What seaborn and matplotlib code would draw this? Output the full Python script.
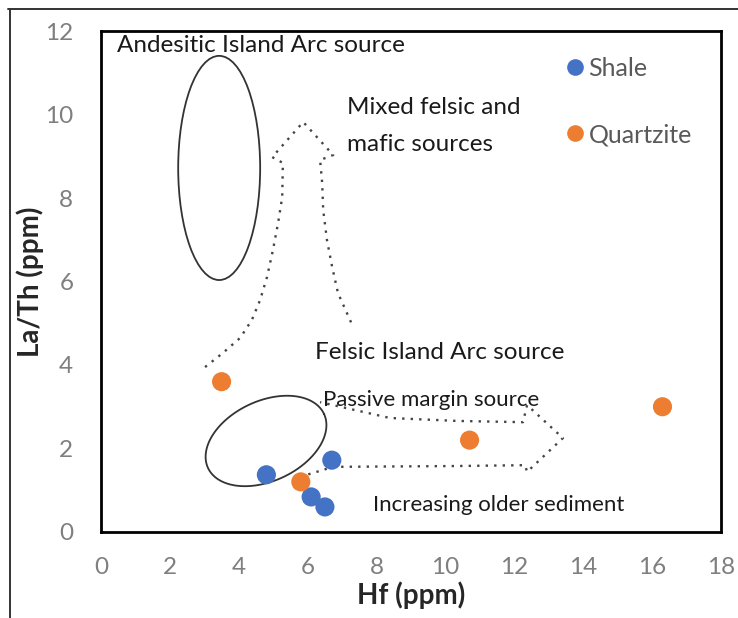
import numpy as np
import pandas as pd
import matplotlib
matplotlib.use("Agg")
import matplotlib.pyplot as plt
from matplotlib.patches import Ellipse
from matplotlib.lines import Line2D
import seaborn as sns

# Sample measurements
shale_hf = [4.8, 6.7, 6.1, 6.5]
shale_lath = [1.37, 1.72, 0.84, 0.60]
quartzite_hf = [3.5, 5.8, 10.7, 16.3]
quartzite_lath = [3.6, 1.2, 2.2, 3.0]

groups = ["Shale", "Quartzite"]
colors = {"Shale": "#4472C4", "Quartzite": "#ED7D31"}

x_ticks = [0, 2, 4, 6, 8, 10, 12, 14, 16, 18]
y_ticks = [0, 2, 4, 6, 8, 10, 12]

# Source-field outlines (data units)
up_arrow = [(3.02, 3.95), (3.54, 4.29), (4.04, 4.65), (4.38, 5.08), (4.62, 5.56),
            (4.82, 6.11), (4.99, 6.75), (5.14, 7.40), (5.26, 8.02), (5.28, 8.84),
            (4.97, 8.98), (5.87, 9.82), (6.74, 9.03), (6.36, 8.91), (6.42, 8.36),
            (6.45, 7.71), (6.56, 6.99), (6.71, 6.35), (6.88, 5.72), (7.32, 4.91)]
side_arrow = [(5.78, 1.32), (6.74, 1.56), (10.34, 1.58), (12.31, 1.60), (12.37, 1.44),
              (13.41, 2.25), (12.37, 3.04), (12.25, 2.63), (10.34, 2.66), (8.39, 2.73),
              (6.36, 3.11)]

df = pd.DataFrame({
    "Hf": shale_hf + quartzite_hf,
    "LaTh": shale_lath + quartzite_lath,
    "Rock": ["Shale"] * len(shale_hf) + ["Quartzite"] * len(quartzite_hf),
})

sns.set_style("white")
plt.rcParams["font.family"] = ["Lato", "DejaVu Sans"]

fig = plt.figure(figsize=(7.38, 6.18), dpi=100)
ax = fig.add_axes([0.1369, 0.1392, 0.977 - 0.1369, 0.9498 - 0.1392])

sns.scatterplot(data=df, x="Hf", y="LaTh", hue="Rock", hue_order=groups,
                palette=colors, s=190, edgecolor="none", ax=ax, zorder=5,
                legend=False)

ax.set_xlim(0, 18)
ax.set_ylim(0, 12)
ax.set_xticks(x_ticks)
ax.set_yticks(y_ticks)
ax.tick_params(axis="both", direction="out", length=8, width=1.8,
               colors="black", labelcolor="#7f7f7f", labelsize=17.5)
ax.tick_params(axis="x", pad=10)
ax.tick_params(axis="y", pad=12)
for sp in ax.spines.values():
    sp.set_color("black")
    sp.set_linewidth(2.0)

ax.set_xlabel("Hf (ppm)", fontsize=20, fontweight="bold")
ax.set_ylabel("La/Th (ppm)", fontsize=20, fontweight="bold")
ax.xaxis.set_label_coords(0.5, -0.098)
ax.yaxis.set_label_coords(-0.092, 0.5)

# Andesitic arc field
ax.add_patch(Ellipse((3.43, 8.72), 2.38, 5.37, fill=False, edgecolor="#333333", lw=1.3))

# Felsic arc field: tilted ellipse defined in screen proportions
sx, sy = 18 / 620, 12 / 501
t = np.linspace(0, 2 * np.pi, 200)
th = np.deg2rad(25)
a, b = 64, 40
ex = 4.79 + (a * np.cos(t) * np.cos(th) - b * np.sin(t) * np.sin(th)) * sx
ey = 2.18 + (a * np.cos(t) * np.sin(th) + b * np.sin(t) * np.cos(th)) * sy
ax.plot(ex, ey, color="#333333", lw=1.3)

dot_style = dict(color="#444444", lw=1.7, linestyle=(0, (1, 2.6)),
                 dash_capstyle="butt")
ux, uy = zip(*up_arrow)
ax.plot(ux, uy, **dot_style)
hx, hy = zip(*side_arrow)
ax.plot(hx, hy, **dot_style)

txt = dict(color="#1a1a1a", va="center", ha="left")
ax.text(0.46, 11.66, "Andesitic Island Arc source", fontsize=17.5, **txt)
ax.text(7.14, 10.18, "Mixed felsic and", fontsize=17.5, **txt)
ax.text(7.14, 9.27, "mafic sources", fontsize=17.5, **txt)
ax.text(6.21, 4.31, "Felsic Island Arc source", fontsize=17.5, **txt)
ax.text(6.45, 3.16, "Passive margin source", fontsize=16, **txt)
ax.text(7.90, 0.65, "Increasing older sediment", fontsize=16, **txt)

handles = [Line2D([], [], marker="o", linestyle="none", markersize=12,
                  markerfacecolor=colors[g], markeredgecolor="none") for g in groups]
leg = ax.legend(handles, groups, loc="upper left", bbox_to_anchor=(0.728, 0.968),
                frameon=False, fontsize=18, labelspacing=1.72, handletextpad=0.05,
                handlelength=1.0, borderaxespad=0)
for tx in leg.get_texts():
    tx.set_color("#595959")

# Outer frame lines along the top and left of the figure
fig.add_artist(Line2D([8 / 738, 1], [1 - 9 / 618, 1 - 9 / 618], transform=fig.transFigure,
                      color="#333333", lw=1.4))
fig.add_artist(Line2D([10 / 738, 10 / 738], [0, 1 - 9 / 618], transform=fig.transFigure,
                      color="#333333", lw=1.4))

fig.savefig("out.png", dpi=100)
